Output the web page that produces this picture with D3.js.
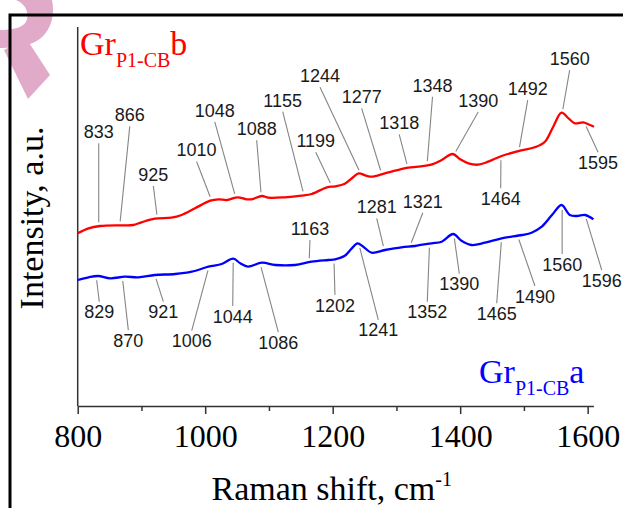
<!DOCTYPE html>
<html>
<head>
<meta charset="utf-8">
<script src="https://cdn.jsdelivr.net/npm/d3@7"></script>
<style>
  html, body { margin: 0; padding: 0; background: #fff; }
  svg { display: block; }
</style>
</head>
<body>
<svg id="chart" width="623" height="508"></svg>
<script>
// ---------- data ----------
const redX = [800,817,835,869,887,900,921,947,963,984,1008,1021,1034,1051,1065,1073,1089,1099,1125,1151,1167,1191,1204,1219,1232,1241,1251,1261,1282,1298,1319,1334,1356,1371,1388,1400,1413,1428,1444,1465,1494,1517,1533,1546,1559,1570,1580,1593,1601,1610];
const redY = [172.7,177.7,180,180.7,181,183.7,187.3,188.3,191,197.7,205.3,206.7,206,208.7,206.7,206.7,210,208.3,208.7,210.3,212,218.7,219.7,222.3,228.7,232.7,230.7,229.3,232.7,235.3,238.3,239.3,241.7,246,252,246.7,242.7,241.3,244.3,250,255.3,258.7,264.3,279.3,293.3,287.7,282.7,283.7,281.7,279.3];

const blueX = [800,817,832,851,874,895,921,953,979,1005,1026,1044,1055,1067,1089,1110,1141,1167,1193,1204,1219,1230,1239,1248,1261,1282,1308,1329,1355,1371,1389,1402,1418,1439,1465,1497,1512,1528,1544,1559,1572,1583,1596,1609];
const blueY = [126,128.7,130,127.7,129.3,128.7,131,132,134.3,139.3,142,147.3,142.7,139.3,143.3,141,141,144.3,146,146.7,150.2,157.7,162.7,159.3,153.3,156,158.7,160,162.7,164.3,172,165.3,161,163.3,167.7,171,173.3,179.3,191,201,191,190,191,186.7];

const redPeaks  = [833,866,925,1010,1048,1088,1155,1199,1244,1277,1318,1348,1390,1492,1560,1595,1464];
const bluePeaks = [829,870,921,1006,1044,1086,1163,1202,1241,1281,1321,1352,1390,1465,1490,1560,1596];

const xTickLabels = [800,1000,1200,1400,1600];
const xMinorTicks = [900,1100,1300,1500];

// ---------- layout (label leader offsets, px) ----------
const redOffsets = [[0,-83],[10,-99],[-4,-32.5],[-15,-39],[-21,-76],[-4.6,-56],[-21.3,-83.6],[-16.3,-34.4],[-40.7,-86.6],[-20.1,-65.8],[-8.7,-33.5],[5.5,-68.5],[24.4,-42.8],[8.9,-51],[7.5,-43],[13.6,29.5],[-0.3,32]];
const blueOffsets = [[3.1,25.5],[6,53.2],[8.5,26.7],[-17.3,64.1],[-0.5,47.3],[18.3,68.8],[0.9,-22.2],[1,35.6],[19.5,75.8],[-7.6,-31.8],[13,-33.8],[-2.3,58.1],[5.5,39.1],[-4.9,65],[17.4,50.3],[0,48.3],[16.6,55]];

const serif = "'Liberation Serif','Times New Roman',serif";
const sans = "'Liberation Sans',Arial,sans-serif";

const svg = d3.select("#chart");
svg.append("rect").attr("width",623).attr("height",508).attr("fill","#fff");

// watermark (pink shape in corner)
svg.append("path")
  .attr("d","M16,0 L52,0 C56,20 48,38 30,44 C20,47 8,48 0,48 L0,30 C12,30 22,28 26,22 C30,14 26,4 16,0 Z M4,50 L26,38 L50,75 L28,99 Z")
  .attr("fill","#d58db5").attr("opacity",0.75);

// frame
svg.append("rect").attr("x",10).attr("y",15).attr("width",700).attr("height",600)
  .attr("fill","none").attr("stroke","#000").attr("stroke-width",3);

const x = d3.scaleLinear().domain([800,1609]).range([77.7,593.4]);
const y = d3.scaleLinear().domain([0,379]).range([406,27]);

// axes
const gx = svg.append("g").attr("transform","translate(0,406)");
gx.call(d3.axisBottom(x).tickValues(xTickLabels).tickSize(8).tickSizeOuter(0).tickFormat(d3.format("d")));
gx.select(".domain").attr("stroke","#333").attr("stroke-width",1.5);
gx.selectAll(".tick line").attr("stroke","#333").attr("stroke-width",1.5);
gx.selectAll(".tick text").attr("y",41).attr("dy",null)
  .attr("font-family",serif).attr("font-size",32).attr("fill","#000");
const gm = svg.append("g").attr("transform","translate(0,406)");
gm.call(d3.axisBottom(x).tickValues(xMinorTicks).tickSize(5).tickFormat(""));
gm.select(".domain").remove();
gm.selectAll(".tick line").attr("stroke","#333").attr("stroke-width",1.5);

svg.append("line").attr("x1",x(800)).attr("x2",x(800)).attr("y1",y(379)).attr("y2",y(0))
  .attr("stroke","#333").attr("stroke-width",1.5);

// axis titles
const xt = svg.append("text").attr("x",211.5).attr("y",500)
  .attr("font-family",serif).attr("font-size",34).attr("fill","#000");
xt.append("tspan").text("Raman shift, cm");
xt.append("tspan").attr("font-size",20).attr("dy",-14).text("-1");

svg.append("text").attr("transform","translate(43,218) rotate(-90)")
  .attr("text-anchor","middle").attr("font-family",serif).attr("font-size",34)
  .attr("fill","#000").text("Intensity, a.u.");

// curves
const line = d3.line().x(d=>x(d[0])).y(d=>y(d[1])).curve(d3.curveCatmullRom.alpha(0.5));
const redData = redX.map((v,i)=>[v,redY[i]]);
const blueData = blueX.map((v,i)=>[v,blueY[i]]);

function interp(xs, ys, w){
  const i = Math.max(1, Math.min(xs.length-1, d3.bisectLeft(xs, w)));
  const t = (w - xs[i-1])/(xs[i]-xs[i-1]);
  return ys[i-1] + t*(ys[i]-ys[i-1]);
}

function annotate(peaks, offsets, xs, ys){
  const g = svg.append("g");
  peaks.forEach((w,i)=>{
    const ax = x(w), ay = y(interp(xs,ys,w));
    const [dx,dy] = offsets[i];
    const len = Math.hypot(dx,dy);
    const sx = ax + dx/len*4, sy = ay + dy/len*4;
    const ex = ax + dx, ey = ay + dy;
    g.append("line").attr("x1",sx).attr("y1",sy).attr("x2",ex).attr("y2",ey)
      .attr("stroke","#858585").attr("stroke-width",1.1);
    g.append("text").attr("x",ex).attr("y", dy<0 ? ey-5 : ey+16.5)
      .attr("text-anchor","middle").attr("font-family",sans).attr("font-size",18)
      .attr("fill","#1a1a1a").text(w);
  });
}
annotate(redPeaks, redOffsets, redX, redY);
annotate(bluePeaks, blueOffsets, blueX, blueY);

svg.append("path").datum(redData).attr("d",line).attr("fill","none")
  .attr("stroke","#ff0000").attr("stroke-width",2.3);
svg.append("path").datum(blueData).attr("d",line).attr("fill","none")
  .attr("stroke","#0000ff").attr("stroke-width",2.3);

// series labels
function seriesLabel(px, py, color, suffix){
  const t = svg.append("text").attr("x",px).attr("y",py)
    .attr("font-family",serif).attr("font-size",34).attr("fill",color);
  t.append("tspan").text("Gr");
  t.append("tspan").attr("font-size",20).attr("dy",12).text("P1-CB");
  t.append("tspan").attr("dy",-12).text(suffix);
}
seriesLabel(80, 55, "#ff0000", "b");
seriesLabel(479, 383, "#0000ff", "a");
</script>
</body>
</html>
